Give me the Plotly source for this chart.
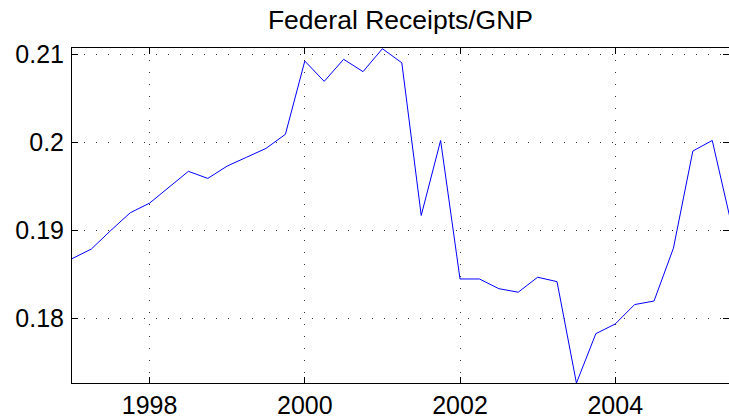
import plotly.graph_objects as go

# Quarterly dates (decimal years) and Federal Receipts / GNP ratio
quarters = [1997.00, 1997.25, 1997.50, 1997.75,
            1998.00, 1998.25, 1998.50, 1998.75,
            1999.00, 1999.25, 1999.50, 1999.75,
            2000.00, 2000.25, 2000.50, 2000.75,
            2001.00, 2001.25, 2001.50, 2001.75,
            2002.00, 2002.25, 2002.50, 2002.75,
            2003.00, 2003.25, 2003.50, 2003.75,
            2004.00, 2004.25, 2004.50, 2004.75,
            2005.00, 2005.25, 2005.50]
receipts_gnp = [0.1868, 0.1879, 0.1900, 0.1920,
                0.1931, 0.1949, 0.1967, 0.1959,
                0.1973, 0.1983, 0.1993, 0.2009,
                0.2092, 0.2069, 0.2094, 0.2080,
                0.2106, 0.2090, 0.1917, 0.2002,
                0.1845, 0.1845, 0.1834, 0.1830,
                0.1847, 0.1842, 0.1727, 0.1783,
                0.1794, 0.1816, 0.1820, 0.1880,
                0.1990, 0.2002, 0.1906]

x_ticks = [1998, 2000, 2002, 2004]
x_labels = ["1998", "2000", "2002", "2004"]
y_ticks = [0.18, 0.19, 0.20, 0.21]
y_labels = ["0.18", "0.19", "0.2", "0.21"]

x_range = [1997.0, 2005.466]
y_range = [0.17271, 0.21068]

FONT = "Liberation Sans, Arial, Helvetica, sans-serif"
FS = 25

fig = go.Figure()
fig.add_trace(go.Scatter(x=quarters, y=receipts_gnp, mode="lines",
                         line=dict(color="#0000ff", width=1),
                         showlegend=False, hoverinfo="skip"))
# invisible companion trace so the right-hand tick axis is drawn
fig.add_trace(go.Scatter(x=quarters, y=receipts_gnp, mode="lines", yaxis="y2",
                         line=dict(color="rgba(0,0,0,0)", width=0),
                         showlegend=False, hoverinfo="skip"))

fig.update_layout(
    width=729, height=420, autosize=False,
    paper_bgcolor="white", plot_bgcolor="white",
    margin=dict(l=72, r=0, t=48, b=37),
    font=dict(family=FONT, size=FS, color="black"),
    title=dict(text="Federal Receipts/GNP", x=0.5, xref="paper", xanchor="center",
               y=1 - 19.5 / 420, yref="container", yanchor="middle",
               font=dict(family=FONT, size=26.5, color="black")),
    xaxis=dict(range=x_range, tickvals=x_ticks, ticktext=x_labels,
               ticks="inside", ticklen=6, tickwidth=1, tickcolor="black",
               showline=True, linecolor="black", linewidth=1, mirror="ticks",
               showgrid=True, gridcolor="#333333", gridwidth=1, griddash="1px,11px",
               zeroline=False, tickfont=dict(family=FONT, size=FS, color="black")),
    yaxis=dict(range=y_range, tickvals=y_ticks, ticktext=y_labels,
               ticks="inside", ticklen=6, tickwidth=1, tickcolor="black",
               showline=True, linecolor="black", linewidth=1, mirror=False,
               ticklabelstandoff=2,
               showgrid=True, gridcolor="#333333", gridwidth=1, griddash="1px,11px",
               zeroline=False, tickfont=dict(family=FONT, size=FS, color="black")),
    yaxis2=dict(range=y_range, tickvals=y_ticks, overlaying="y", side="right",
                ticks="inside", ticklen=6, tickwidth=1, tickcolor="black",
                showticklabels=False, showline=False, showgrid=False, zeroline=False),
)

# remove the default page margin so the 729x420 figure fills the window exactly
fig.write_html("out.html", config={"displayModeBar": False},
               post_script="document.body.style.margin='0';")
